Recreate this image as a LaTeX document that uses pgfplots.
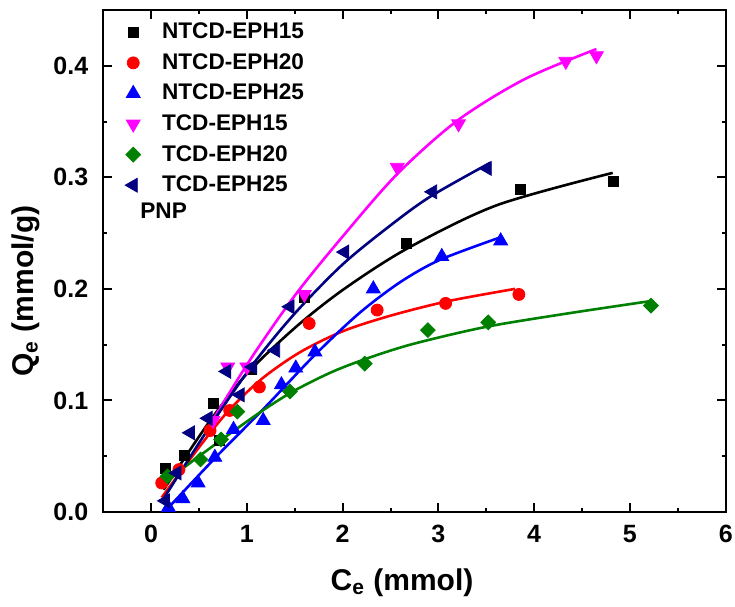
\documentclass[border=0pt]{standalone}
\usepackage{fontspec}
\setmainfont{Liberation Sans}
\usepackage{pgfplots}
\pgfplotsset{compat=1.18}
\definecolor{navy}{RGB}{0,0,128}
\definecolor{dgreen}{RGB}{0,128,0}
\definecolor{magen}{RGB}{255,0,255}
\begin{document}
\begin{tikzpicture}
\begin{axis}[name=ax,
 width=311.2pt, height=251pt, scale only axis,
 xmin=-0.5, xmax=6, ymin=0, ymax=0.45,
 xtick={0,1,2,3,4,5,6}, ytick={0,0.1,0.2,0.3,0.4},
 minor x tick num=1, minor y tick num=1,
 tick align=inside, major tick length=4.5pt, minor tick length=2pt,
 axis line style={line width=1pt},
 tick style={line width=1pt, black},
 clip=false,
 /pgf/number format/assume math mode=true,
 ticklabel style={font=\fontsize{12.5}{15}\selectfont\bfseries},
 yticklabel style={/pgf/number format/fixed,/pgf/number format/fixed zerofill,/pgf/number format/precision=1, xshift=-4pt},
 xticklabel style={yshift=-3pt},
 xlabel={C\textsubscript{e} (mmol)}, ylabel={Q\textsubscript{e} (mmol/g)},
 label style={font=\fontsize{15}{18}\selectfont\bfseries},
 xlabel style={at={(axis description cs:0.48,-0.141)}, anchor=center},
 ylabel style={at={(axis description cs:-0.125,0.44)}, anchor=center},
 legend style={draw=none, fill=none, at={(axis description cs:0.025,0.991)}, anchor=north west,
   font=\fontsize{11.3}{13}\selectfont\bfseries, row sep=1.9pt,
   /tikz/every odd column/.append style={column sep=8.75pt}},
 legend cell align=left,
]
% data markers
\addplot[only marks, mark=square*, mark size=2.5pt, black] coordinates {
(0.15,0.039)(0.35,0.051)(0.71,0.064)(0.65,0.097)(1.05,0.128)(1.60,0.192)(2.67,0.241)(3.86,0.289)(4.83,0.296)};
\addlegendentry{NTCD-EPH15}
\addplot[only marks, mark=*, mark size=3pt, red] coordinates {
(0.11,0.026)(0.29,0.038)(0.615,0.073)(0.82,0.091)(1.13,0.112)(1.65,0.169)(2.36,0.181)(3.075,0.187)(3.84,0.195)};
\addlegendentry{NTCD-EPH20}
\addplot[only marks, mark=triangle*, mark size=4pt, blue] coordinates {
(0.18,0.004)(0.33,0.012)(0.49,0.026)(0.665,0.049)(0.86,0.074)(1.17,0.082)(1.36,0.114)(1.51,0.129)(1.71,0.1435)(2.32,0.200)(3.035,0.229)(3.65,0.243)};
\addlegendentry{NTCD-EPH25}
\addplot[only marks, mark=triangle*, mark size=4pt, mark options={rotate=180}, magen] coordinates {
(0.645,0.082)(0.80,0.130)(1.00,0.130)(1.60,0.195)(2.57,0.309)(3.21,0.348)(4.33,0.404)(4.65,0.409)};
\addlegendentry{TCD-EPH15}
\addplot[only marks, mark=square*, mark size=2.6pt, mark options={rotate=45}, dgreen] coordinates {
(0.17,0.032)(0.515,0.047)(0.73,0.065)(0.90,0.090)(1.45,0.108)(2.23,0.133)(2.89,0.163)(3.52,0.170)(5.22,0.185)};
\addlegendentry{TCD-EPH20}
\addplot[only marks, mark=triangle*, mark size=4pt, mark options={rotate=90}, navy] coordinates {
(0.15,0.010)(0.27,0.035)(0.41,0.071)(0.595,0.084)(0.79,0.126)(0.93,0.105)(1.06,0.130)(1.30,0.145)(1.45,0.184)(2.02,0.233)(2.94,0.287)(3.51,0.308)};
\addlegendentry{TCD-EPH25}
% fitted curves
\addplot[forget plot, smooth, no marks, black, line width=1.3pt] coordinates {
(0.13,0.020)(0.6,0.080)(1.0,0.124)(1.5,0.165)(2.0,0.199)(2.67,0.236)(3.61,0.275)(4.82,0.304)};
\addplot[forget plot, smooth, no marks, red, line width=1.3pt] coordinates {
(0.11,0.013)(0.5,0.058)(0.8,0.090)(1.15,0.119)(1.55,0.143)(2.0,0.162)(2.5,0.176)(3.1,0.189)(3.8,0.200)};
\addplot[forget plot, smooth, no marks, blue, line width=1.3pt] coordinates {
(0.16,0.002)(0.685,0.050)(1.18,0.093)(1.70,0.140)(2.17,0.178)(2.6,0.206)(3.015,0.226)(3.64,0.246)};
\addplot[forget plot, smooth, no marks, magen, line width=1.3pt] coordinates {
(0.605,0.077)(1.03,0.136)(1.5,0.194)(2.0,0.247)(2.57,0.303)(3.2,0.351)(3.9,0.388)(4.65,0.415)};
\addplot[forget plot, smooth, no marks, dgreen, line width=1.3pt] coordinates {
(0.13,0.026)(0.5,0.050)(0.9,0.075)(1.2,0.093)(1.5,0.109)(1.9,0.126)(2.3,0.139)(2.75,0.151)(3.5,0.166)(4.35,0.178)(5.21,0.189)};
\addplot[forget plot, smooth, no marks, navy, line width=1.3pt] coordinates {
(0.13,0.012)(0.6,0.075)(1.06,0.132)(1.5,0.178)(2.0,0.222)(2.5,0.257)(2.92,0.283)(3.54,0.313)};
\node[anchor=west, inner sep=0pt, font=\fontsize{11.3}{13}\selectfont\bfseries] at (axis description cs:0.059,0.600) {PNP};
\end{axis}
\pgfresetboundingbox
\path[use as bounding box] ([xshift=-51.65pt,yshift=-47.35pt]ax.south west) rectangle ([xshift=4.65pt,yshift=5pt]ax.north east);
\end{tikzpicture}
\end{document}
